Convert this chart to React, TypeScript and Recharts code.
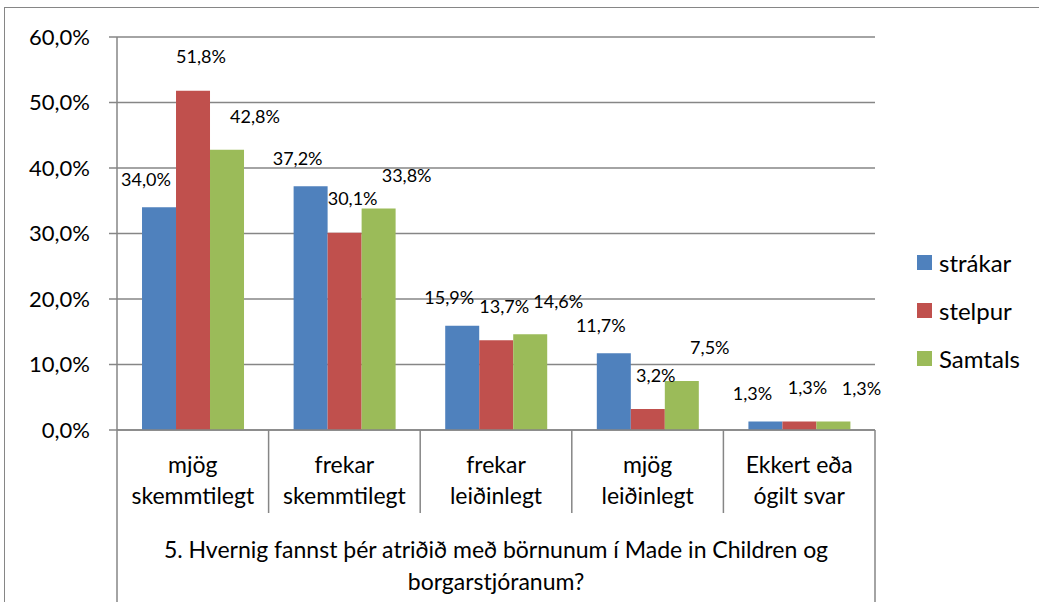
import React from 'react';
import { BarChart, Bar, XAxis, YAxis, CartesianGrid, LabelList } from 'recharts';

const categories = [
  ['mjög', 'skemmtilegt'],
  ['frekar', 'skemmtilegt'],
  ['frekar', 'leiðinlegt'],
  ['mjög', 'leiðinlegt'],
  ['Ekkert eða', 'ógilt svar'],
];
const strakar = [34.0, 37.2, 15.9, 11.7, 1.3];
const stelpur = [51.8, 30.1, 13.7, 3.2, 1.3];
const samtals = [42.8, 33.8, 14.6, 7.5, 1.3];
const yTicks = [0, 10, 20, 30, 40, 50, 60];
const groupTitle = ['5. Hvernig fannst þér atriðið með börnunum í Made in Children og', 'borgarstjóranum?'];

const SERIES = [
  { key: 'strakar', name: 'strákar', color: '#4F81BD', dx: -13, dy: -26 },
  { key: 'stelpur', name: 'stelpur', color: '#C0504D', dx: 8, dy: -32 },
  { key: 'samtals', name: 'Samtals', color: '#9BBB59', dx: 28, dy: -31 },
];

const W = 1039;
const H = 602;
const PLOT_LEFT = 117;
const PLOT_RIGHT = 875;
const PLOT_TOP = 37;
const PLOT_BOTTOM = 430;
const STEP = (PLOT_RIGHT - PLOT_LEFT) / categories.length;
const GRID = '#868686';
const FONT = 'Lato, "Noto Sans", sans-serif';

const data = categories.map((c, i) => ({
  name: c.join(' '),
  strakar: strakar[i],
  stelpur: stelpur[i],
  samtals: samtals[i],
}));

const fmt = (v: number) => v.toFixed(1).replace('.', ',') + '%';

const CategoryTick = ({ x, index }: any) => {
  const lines = categories[index] || [];
  const left = x - STEP / 2;
  const right = x + STEP / 2;
  return (
    <g>
      <line x1={left} y1={PLOT_BOTTOM} x2={left} y2={index === 0 ? H : 513} stroke={GRID} strokeWidth={1.5} />
      {index === categories.length - 1 && (
        <line x1={right} y1={PLOT_BOTTOM} x2={right} y2={H} stroke={GRID} strokeWidth={1.5} />
      )}
      {lines.map((l, i) => (
        <text key={i} x={x} y={467 + i * 31} textAnchor="middle" dominantBaseline="middle"
          fontSize={23} fontFamily={FONT} fill="#000">{l}</text>
      ))}
    </g>
  );
};

const GroupLabel = () => (
  <g>
    {groupTitle.map((l, i) => (
      <text key={i} x={(PLOT_LEFT + PLOT_RIGHT) / 2} y={552 + i * 32} textAnchor="middle" dominantBaseline="middle"
        fontSize={23} fontFamily={FONT} fill="#000">{l}</text>
    ))}
  </g>
);

const makeLabel = (dx: number, dy: number) => (props: any) => {
  const { x, y, width, value } = props;
  return (
    <text x={x + width / 2 + dx} y={y + dy} textAnchor="middle" dominantBaseline="middle"
      fontSize={18} fontFamily={FONT} fill="#000">{fmt(value)}</text>
  );
};

const LegendBox = () => (
  <div style={{ position: 'absolute', left: 917, top: 238, fontFamily: FONT, fontSize: 24 }}>
    {SERIES.map((s) => (
      <div key={s.key} style={{ display: 'flex', alignItems: 'center', height: 48 }}>
        <span style={{ width: 15, height: 15, background: s.color, display: 'inline-block', marginRight: 7 }} />
        <span>{s.name}</span>
      </div>
    ))}
  </div>
);

export default function App() {
  return (
    <div style={{ position: 'absolute', left: 0, top: 0, width: W, height: H, background: '#fff', overflow: 'hidden' }}>
      <div style={{ position: 'absolute', left: 4, top: 7, right: 0, bottom: 0, borderTop: `1.5px solid ${GRID}`, borderLeft: `1.5px solid ${GRID}` }} />
      <BarChart
        width={W}
        height={H}
        data={data}
        margin={{ top: PLOT_TOP, right: W - PLOT_RIGHT, bottom: 0, left: 0 }}
        barCategoryGap="16.5%"
        barGap={0}
        style={{ position: 'absolute', left: 0, top: 0 }}
      >
        <CartesianGrid vertical={false} stroke={GRID} strokeWidth={1.5} />
        <XAxis
          dataKey="name"
          height={H - PLOT_BOTTOM}
          axisLine={{ stroke: GRID, strokeWidth: 1.5 }}
          tickLine={false}
          interval={0}
          tick={<CategoryTick />}
          label={{ content: <GroupLabel /> }}
        />
        <YAxis
          width={PLOT_LEFT}
          domain={[0, 60]}
          ticks={yTicks}
          tickFormatter={fmt}
          axisLine={{ stroke: GRID, strokeWidth: 1.5 }}
          tickLine={{ stroke: GRID, strokeWidth: 1.5 }}
          tickSize={8}
          tickMargin={19}
          tick={{ fontSize: 22, fontFamily: FONT, fill: '#000' }}
        />
        {SERIES.map((s) => (
          <Bar key={s.key} dataKey={s.key} name={s.name} fill={s.color} isAnimationActive={false}>
            <LabelList dataKey={s.key} content={makeLabel(s.dx, s.dy)} />
          </Bar>
        ))}
      </BarChart>
      <LegendBox />
    </div>
  );
}
